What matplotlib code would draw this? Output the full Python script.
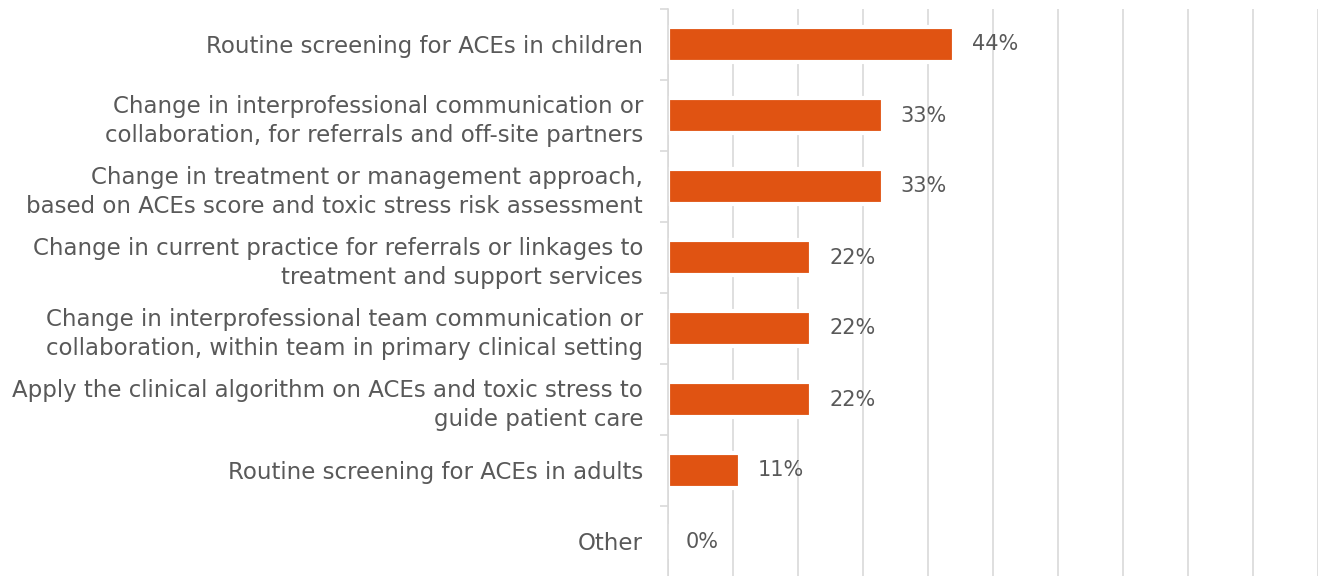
import matplotlib
matplotlib.use("Agg")
import matplotlib.pyplot as plt
import numpy as np

categories = [
    "Routine screening for ACEs in children",
    "Change in interprofessional communication or\ncollaboration, for referrals and off-site partners",
    "Change in treatment or management approach,\nbased on ACEs score and toxic stress risk assessment",
    "Change in current practice for referrals or linkages to\ntreatment and support services",
    "Change in interprofessional team communication or\ncollaboration, within team in primary clinical setting",
    "Apply the clinical algorithm on ACEs and toxic stress to\nguide patient care",
    "Routine screening for ACEs in adults",
    "Other",
]
values = [0.44, 0.33, 0.33, 0.22, 0.22, 0.22, 0.11, 0.0]
value_labels = ["44%", "33%", "33%", "22%", "22%", "22%", "11%", "0%"]

BAR = "#E05312"
TEXT = "#595959"
GRID = "#D9D9D9"

plt.rcParams['font.family'] = ['DejaVu Sans']

fig = plt.figure(figsize=(13.25, 5.76), dpi=100)
ax = fig.add_axes([668/1325, -1/576, (1318-668)/1325, (576-8)/576])

n = len(categories)
y = np.arange(n)
ax.barh(y, values, height=0.49, color=BAR, edgecolor="white", linewidth=3, zorder=3)

for yi, v, lab in zip(y, values, value_labels):
    ax.annotate(lab, xy=(v, yi), xytext=(13, 0), textcoords="offset points",
                va="center", ha="left", fontsize=15, color=TEXT)

ax.set_xlim(0, 1.0)
ax.set_ylim(n - 0.5, -0.5)
ax.set_xticks(np.arange(0, 1.01, 0.1))
ax.xaxis.grid(True, color=GRID, linewidth=1.2, zorder=0)
ax.tick_params(axis="x", length=0, labelbottom=False)

ax.set_yticks(y)
ax.set_yticklabels(categories, fontsize=16.5, color=TEXT, ha="right", linespacing=1.35)
ax.set_yticks(np.arange(-0.5, n, 1), minor=True)
ax.tick_params(axis="y", which="major", length=0, pad=18)
ax.tick_params(axis="y", which="minor", length=5.5, width=1.2, color=GRID)

for s in ["top", "right", "bottom"]:
    ax.spines[s].set_visible(False)
ax.spines["left"].set_color(GRID)
ax.spines["left"].set_linewidth(1.2)
ax.spines["left"].set_zorder(4)

fig.savefig("out.png", dpi=100)
